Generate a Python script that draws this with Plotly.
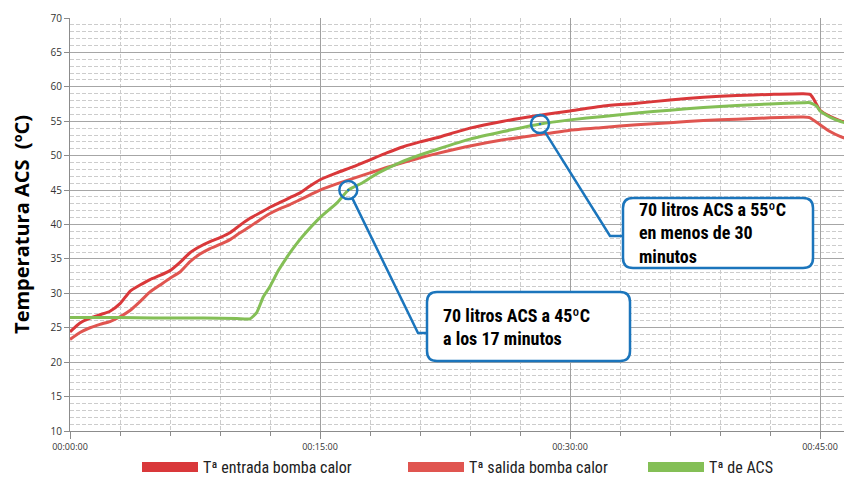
import plotly.graph_objects as go

# ---------------- data (minutes, ºC) ----------------
t_entrada = [0, 0.6, 1.2, 1.8, 2.4, 3.0, 3.6, 4.2, 4.8, 5.4, 6.0, 6.6, 7.2, 7.8, 8.4, 9.0, 9.6,
             10.2, 10.8, 11.4, 12.0, 12.6, 13.2, 13.8, 14.4, 15, 16, 17, 18, 19, 20, 21, 22,
             24, 26, 28, 30, 32, 34, 36, 38, 40, 42, 44, 44.4, 44.6, 44.8, 45.0, 45.6, 46.2, 46.92]
v_entrada = [24.4, 25.7, 26.4, 26.9, 27.4, 28.5, 30.3, 31.2, 32.0, 32.6, 33.3, 34.5, 35.9, 36.8, 37.5, 38.1, 38.8,
             39.9, 40.9, 41.7, 42.5, 43.2, 43.9, 44.6, 45.6, 46.5, 47.5, 48.4, 49.4, 50.4, 51.3, 52.0, 52.6,
             54.0, 55.0, 55.8, 56.5, 57.2, 57.6, 58.1, 58.5, 58.75, 58.9, 59.0, 58.9, 58.3, 57.4, 56.6, 55.7, 55.1, 54.6]

t_salida = [0, 0.6, 1.2, 1.8, 2.4, 3.0, 3.6, 4.2, 4.8, 5.4, 6.0, 6.6, 7.2, 7.8, 8.4, 9.0, 9.6,
            10.2, 10.8, 11.4, 12.0, 12.6, 13.2, 13.8, 14.4, 15, 16, 17, 18, 19, 20, 21, 22,
            24, 26, 28, 30, 32, 34, 36, 38, 40, 42, 44, 44.4, 45.0, 45.6, 46.2, 46.92]
v_salida = [23.3, 24.3, 25.0, 25.5, 25.9, 26.6, 27.5, 28.8, 30.2, 31.2, 32.2, 33.1, 34.6, 35.7, 36.5, 37.1, 37.8,
            38.8, 39.7, 40.7, 41.6, 42.3, 42.9, 43.6, 44.3, 45.0, 45.9, 46.7, 47.5, 48.3, 49.0, 49.7, 50.3,
            51.4, 52.3, 53.0, 53.7, 54.1, 54.5, 54.8, 55.1, 55.3, 55.5, 55.6, 55.5, 54.5, 53.5, 52.8, 52.2]

t_acs = [0, 2, 4, 6, 8, 10, 10.8, 11.2, 11.6, 12.0, 12.5, 13.0, 13.5, 14, 15, 16, 16.7, 17.5, 18.5,
         19.8, 21, 22, 24, 26, 28.2, 30, 32, 34, 36, 38, 40, 42, 44, 44.4, 44.8, 45.0, 45.6, 46.2, 46.92]
v_acs = [26.5, 26.5, 26.45, 26.4, 26.4, 26.35, 26.3, 27.2, 29.5, 31.0, 33.3, 35.2, 36.9, 38.4, 41.0, 43.1, 45.0, 46.0, 47.5,
         49.0, 50.1, 50.9, 52.4, 53.5, 54.6, 55.2, 55.7, 56.2, 56.6, 57.0, 57.3, 57.5, 57.7, 57.7, 57.2, 56.5, 55.6, 55.0, 54.5]

series_names = ["Tª entrada bomba calor", "Tª salida bomba calor", "Tª de ACS"]
series_colors = ["#d9383a", "#e05550", "#84bf56"]

x_tickvals = [0, 15, 30, 45]
x_ticktext = ["00:00:00", "00:15:00", "00:30:00", "00:45:00"]

callout_points = [(16.7, 45.0), (28.2, 54.6)]
callout_texts = ["<b>70 litros ACS a 45ºC<br>a los 17 minutos</b>",
                 "<b>70 litros ACS a 55ºC<br>en menos de 30<br>minutos</b>"]

# ---------------- layout geometry (screen pixels) ----------------
OFF = 8                      # default page body margin
SW, SH = 852, 477            # screen size
L_S, R_S, T_S, B_S = 70, 852, 18, 431   # plot area on screen
W, H = SW - OFF, SH - OFF
ML, MT = L_S - OFF, T_S - OFF
MR, MB = W - (R_S - OFF), H - (B_S - OFF)
X_MAX = 46.92
Y_MIN, Y_MAX = 10, 70
PW, PH = R_S - L_S, B_S - T_S


def px2x(px):
    return (px - L_S) / PW * X_MAX


def py2y(py):
    return Y_MAX - (py - T_S) / PH * (Y_MAX - Y_MIN)


def dxp(d):
    return d / PW * X_MAX


def dyp(d):
    return d / PH * (Y_MAX - Y_MIN)


BLUE = "#1b75bc"
NARROW = "Liberation Sans Narrow, Roboto Condensed, Roboto, sans-serif"

fig = go.Figure()
for t, v, name, col in [(t_entrada, v_entrada, series_names[0], series_colors[0]),
                        (t_salida, v_salida, series_names[1], series_colors[1]),
                        (t_acs, v_acs, series_names[2], series_colors[2])]:
    fig.add_trace(go.Scatter(x=t, y=v, mode="lines", name=name, showlegend=False,
                             line=dict(color=col, width=3, shape="spline", smoothing=0.5),
                             hoverinfo="skip"))
legend_ids = ["legend", "legend2", "legend3"]
for name, col, lid in zip(series_names, series_colors, legend_ids):
    fig.add_trace(go.Scatter(x=[None], y=[None], mode="lines", name=name, legend=lid,
                             line=dict(color=col, width=12)))

shapes = []
boxes_px = [(427, 630, 292, 361), (623, 813, 198, 268)]
elbows_px = [(418, 333), (610, 236)]
annos = []
for (cx, cy), (bl, br, bt, bb), (ex, ey), txt in zip(callout_points, boxes_px, elbows_px, callout_texts):
    shapes.append(dict(type="circle", xref="x", yref="y", xsizemode="pixel", ysizemode="pixel",
                       xanchor=cx, yanchor=cy, x0=-9, x1=9, y0=-9, y1=9,
                       line=dict(color=BLUE, width=2.5), fillcolor="rgba(0,0,0,0)"))
    shapes.append(dict(type="circle", xref="x", yref="y", xsizemode="pixel", ysizemode="pixel",
                       xanchor=cx, yanchor=cy, x0=-1.3, x1=1.3, y0=-1.3, y1=1.3,
                       line=dict(color=BLUE, width=0), fillcolor=BLUE))
    cpx = L_S + cx / X_MAX * PW
    cpy = T_S + (Y_MAX - cy) / (Y_MAX - Y_MIN) * PH
    ddx, ddy = ex - cpx, ey - cpy
    ln = (ddx ** 2 + ddy ** 2) ** 0.5
    sx, sy = cpx + ddx / ln * 9, cpy + ddy / ln * 9
    shapes.append(dict(type="path", xref="x", yref="y",
                       path=f"M{px2x(sx)},{py2y(sy)} L{px2x(ex)},{py2y(ey)} L{px2x(bl)},{py2y(ey)}",
                       line=dict(color=BLUE, width=2.5)))
    l, r, tp, bt_ = px2x(bl), px2x(br), py2y(bt), py2y(bb)
    rx, ry = dxp(10), dyp(10)
    path = (f"M{l+rx},{tp} L{r-rx},{tp} Q{r},{tp} {r},{tp-ry} L{r},{bt_+ry} Q{r},{bt_} {r-rx},{bt_} "
            f"L{l+rx},{bt_} Q{l},{bt_} {l},{bt_+ry} L{l},{tp-ry} Q{l},{tp} {l+rx},{tp} Z")
    shapes.append(dict(type="path", xref="x", yref="y", path=path,
                       line=dict(color=BLUE, width=2.5), fillcolor="white"))
    annos.append(dict(x=px2x(bl + 14), y=py2y((bt + bb) / 2), xref="x", yref="y",
                      text=txt, showarrow=False, xanchor="left", yanchor="middle", align="left",
                      font=dict(family=NARROW, size=18, color="black")))


def legend_at(x_screen):
    return dict(orientation="h", x=(x_screen - L_S) / PW, xanchor="left", y=-36 / PH, yanchor="middle",
                font=dict(family=NARROW, size=16, color="#222222"),
                itemwidth=56, bgcolor="rgba(0,0,0,0)")


fig.update_layout(
    width=W, height=H,
    margin=dict(l=ML, r=MR, t=MT, b=MB, autoexpand=False),
    plot_bgcolor="white", paper_bgcolor="white",
    shapes=shapes, annotations=annos,
    font=dict(family="Open Sans, sans-serif", color="#333333"),
    legend=legend_at(137), legend2=legend_at(403), legend3=legend_at(643),
    xaxis=dict(range=[0, X_MAX], tickmode="array", tickvals=x_tickvals, ticktext=x_ticktext,
               showgrid=True, gridcolor="#a0a0a0", gridwidth=1,
               showline=True, linecolor="#8c8c8c", linewidth=1,
               ticks="outside", ticklen=7, tickcolor="#8c8c8c",
               tickfont=dict(size=9, color="#333333"),
               minor=dict(tickmode="linear", tick0=0, dtick=3, showgrid=True, gridcolor="#cccccc",
                          griddash="4px,2px", ticks="outside", ticklen=4, tickcolor="#8c8c8c"),
               zeroline=False, mirror=False, fixedrange=True, automargin=False),
    yaxis=dict(range=[Y_MIN, Y_MAX], tickmode="linear", tick0=10, dtick=5,
               showgrid=True, gridcolor="#a6a6a6", gridwidth=1,
               showline=True, linecolor="#8c8c8c", linewidth=1,
               ticks="outside", ticklen=5, tickcolor="#8c8c8c",
               tickfont=dict(size=10, color="#333333"),
               minor=dict(tickmode="linear", tick0=10, dtick=1, showgrid=True, gridcolor="#cccccc",
                          griddash="4px,2px"),
               title=dict(text="<b>Temperatura ACS  (ºC)</b>", font=dict(size=20, color="black"),
                          standoff=20),
               zeroline=False, fixedrange=True, automargin=False),
)

fig.write_html("out.html")
